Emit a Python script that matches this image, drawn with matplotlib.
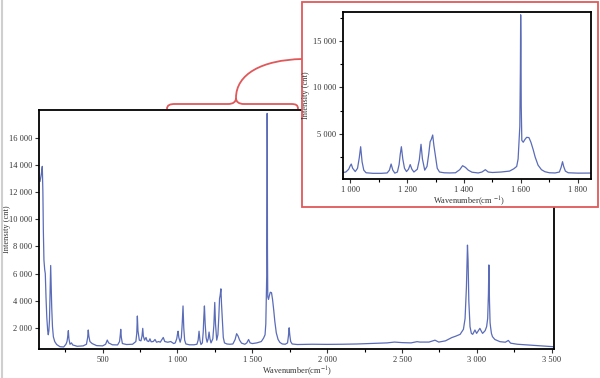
import matplotlib
matplotlib.use('Agg')
import matplotlib.pyplot as plt
from matplotlib.patches import Rectangle, PathPatch
from matplotlib.path import Path
from matplotlib.lines import Line2D
from matplotlib.ticker import MultipleLocator, FixedLocator, FuncFormatter

plt.rcParams['font.family'] = ['Liberation Serif', 'DejaVu Serif']
plt.rcParams['mathtext.fontset'] = 'stix'

# spectrum (wavenumber, counts)
wavenumber = [82, 90, 97, 101, 104, 108, 113, 117, 122, 127, 133, 137, 141, 145, 149, 153,
              156, 160, 165, 171, 180, 193, 215, 240, 255, 262, 266, 271, 275, 282, 292, 300,
              330, 370, 392, 400, 404, 408, 415, 430, 460, 500, 520, 531, 540, 565, 600, 613,
              618, 621, 625, 632, 660, 700, 722, 728, 732, 736, 745, 756, 763, 768, 772, 780,
              790, 797, 808, 816, 824, 838, 850, 860, 875, 885, 905, 915, 935, 955, 975, 985,
              995, 1000, 1004, 1009, 1018, 1026, 1032, 1037, 1042, 1048, 1056, 1080, 1110, 1130, 1138, 1144,
              1150, 1157, 1166, 1172, 1176, 1180, 1185, 1191, 1198, 1205, 1211, 1217, 1224, 1236, 1243, 1249,
              1254, 1262, 1270, 1276, 1281, 1285, 1290, 1294, 1300, 1306, 1314, 1330, 1350, 1370, 1385, 1395,
              1405, 1415, 1428, 1450, 1463, 1475, 1485, 1500, 1530, 1560, 1575, 1585, 1590, 1594, 1596, 1598,
              1599, 1600, 1601, 1603, 1608, 1614, 1620, 1628, 1635, 1643, 1650, 1660, 1672, 1684, 1700, 1720,
              1735, 1741, 1746, 1750, 1756, 1766, 1800, 1850, 1900, 2000, 2100, 2200, 2300, 2400, 2450, 2500,
              2560, 2600, 2620, 2680, 2720, 2745, 2790, 2832, 2860, 2888, 2910, 2921, 2930, 2937, 2941, 2946,
              2954, 2963, 2972, 2987, 2998, 3010, 3020, 3030, 3038, 3055, 3065, 3072, 3077, 3080, 3084, 3088,
              3091, 3097, 3104, 3120, 3154, 3190, 3210, 3225, 3270, 3355, 3430, 3510]
intensity = [12800, 13300, 13900, 12000, 9200, 7000, 6300, 6000, 4200, 2800, 1800, 1500, 1800, 2600, 4500, 6600,
             5200, 3500, 2100, 1350, 1000, 780, 620, 600, 800, 1000, 1300, 1800, 1200, 800, 900, 750,
             650, 680, 800, 1300, 1850, 1400, 1000, 850, 700, 680, 800, 1110, 900, 760, 750, 1000,
             1500, 1900, 1300, 850, 780, 800, 1000, 1600, 2880, 1800, 1100, 1050, 1400, 1970, 1400, 1100,
             1300, 1050, 1000, 1200, 980, 1000, 1150, 950, 1000, 950, 1300, 1000, 950, 1000, 850, 900,
             1200, 1550, 1760, 1300, 950, 1300, 2400, 3620, 2000, 1100, 820, 760, 760, 800, 1100, 1760,
             1100, 780, 900, 1700, 2800, 3620, 2300, 1300, 950, 1200, 1700, 1200, 900, 1200, 2200, 3880,
             2300, 1100, 1500, 2800, 4160, 4400, 4880, 3800, 2550, 1300, 900, 820, 800, 820, 1150, 1580,
             1400, 1100, 880, 800, 900, 1150, 900, 850, 900, 1000, 1250, 1500, 2300, 4500, 5800, 12000,
             17800, 15000, 8000, 4300, 4100, 4400, 4630, 4600, 4100, 3300, 2500, 1640, 1150, 935, 820, 800,
             900, 1400, 2010, 1500, 1000, 820, 780, 790, 800, 790, 800, 820, 860, 900, 960, 920,
             900, 990, 960, 960, 1100, 960, 1050, 1290, 1400, 1530, 1900, 2690, 5000, 8100, 7000, 4000,
             2100, 1600, 1530, 1850, 1600, 1800, 1970, 1750, 1600, 1800, 2100, 2700, 4500, 6640, 4000, 2400,
             2100, 1600, 1360, 1150, 990, 950, 1080, 880, 800, 740, 680, 620]

main_yticks = [2000, 4000, 6000, 8000, 10000, 12000, 14000, 16000]

line_color = '#5a6cb8'
red = '#e0585a'
text_color = '#333333'
W, H = 600, 378


def fig_box(x0, y0, x1, y1):
    # pixel box (top-left origin) -> figure fraction rect
    return [x0 / W, 1 - y1 / H, (x1 - x0) / W, (y1 - y0) / H]


def spaced(v, pos):
    return f'{v:,.0f}'.replace(',', ' ')


fig = plt.figure(figsize=(6, 3.78), dpi=100)

# main spectrum
ax = fig.add_axes(fig_box(39, 110, 554, 349))
ax.plot(wavenumber, intensity, color=line_color, lw=0.9)
ax.set_xlim(75, 3515)
ax.set_ylim(450, 18050)
ax.xaxis.set_major_locator(MultipleLocator(500))
ax.xaxis.set_minor_locator(MultipleLocator(250))
ax.yaxis.set_major_locator(FixedLocator(main_yticks))
ax.xaxis.set_major_formatter(FuncFormatter(spaced))
ax.yaxis.set_major_formatter(FuncFormatter(spaced))
ax.tick_params(labelsize=6, length=3, width=0.8, pad=2, colors=text_color)
ax.tick_params(which='minor', length=2, width=0.8)
for s in ax.spines.values():
    s.set_linewidth(1.3)
ax.set_xlabel('Wavenumber(cm$^{-1}$)', fontsize=6, color=text_color)
ax.set_ylabel('Intensity (cnt)', fontsize=6, color=text_color)
ax.xaxis.set_label_coords(0.5, -0.062)
ax.yaxis.set_label_coords(-0.055, 0.5)

# red frame of the zoomed view
frame = Rectangle((302 / W, 1 - 207 / H), 296 / W, 205 / H, transform=fig.transFigure,
                  facecolor='white', edgecolor=red, lw=1.3, zorder=1)
fig.add_artist(frame)

axi = fig.add_axes(fig_box(343, 12, 591, 179))
axi.set_zorder(2)
axi.plot(wavenumber, intensity, color=line_color, lw=0.9)
axi.set_xlim(975, 1846)
axi.set_ylim(150, 18100)
axi.xaxis.set_major_locator(MultipleLocator(200))
axi.xaxis.set_minor_locator(MultipleLocator(100))
axi.yaxis.set_major_locator(MultipleLocator(5000))
axi.yaxis.set_minor_locator(MultipleLocator(2500))
axi.xaxis.set_major_formatter(FuncFormatter(spaced))
axi.yaxis.set_major_formatter(FuncFormatter(spaced))
axi.tick_params(labelsize=6, length=3, width=0.8, pad=2, colors=text_color)
axi.tick_params(which='minor', length=2, width=0.8)
for s in axi.spines.values():
    s.set_linewidth(1.3)
axi.set_xlabel('Wavenumber(cm $^{-1}$)', fontsize=6, color=text_color)
axi.set_ylabel('Intensity (cnt)', fontsize=6, color=text_color)
axi.xaxis.set_label_coords(0.51, -0.09)
axi.yaxis.set_label_coords(-0.135, 0.5)

# brace over the zoomed range and the curve up to the frame
pts = [(167, 109), (167, 105), (170, 104), (175, 104),
       (228, 104),
       (233, 104), (236, 102), (236, 98),
       (236, 102), (239, 104), (244, 104),
       (291, 104),
       (296, 104), (298, 105), (298, 109)]
codes = [Path.MOVETO, Path.CURVE4, Path.CURVE4, Path.CURVE4,
         Path.LINETO,
         Path.CURVE4, Path.CURVE4, Path.CURVE4,
         Path.CURVE4, Path.CURVE4, Path.CURVE4,
         Path.LINETO,
         Path.CURVE4, Path.CURVE4, Path.CURVE4]
brace = Path([(x / W, 1 - y / H) for x, y in pts], codes)
fig.add_artist(PathPatch(brace, transform=fig.transFigure, fill=False, edgecolor=red, lw=1.3, zorder=3))

arc_pts = [(236, 98), (236, 74), (262, 60), (302, 59)]
arc = Path([(x / W, 1 - y / H) for x, y in arc_pts],
           [Path.MOVETO, Path.CURVE4, Path.CURVE4, Path.CURVE4])
fig.add_artist(PathPatch(arc, transform=fig.transFigure, fill=False, edgecolor=red, lw=1.3, zorder=3))

# grey edge on the left of the picture
fig.add_artist(Line2D([2 / W, 2 / W], [0, 1], transform=fig.transFigure, color='#cfcfcf', lw=1.5))

fig.savefig('out.png', dpi=100)
